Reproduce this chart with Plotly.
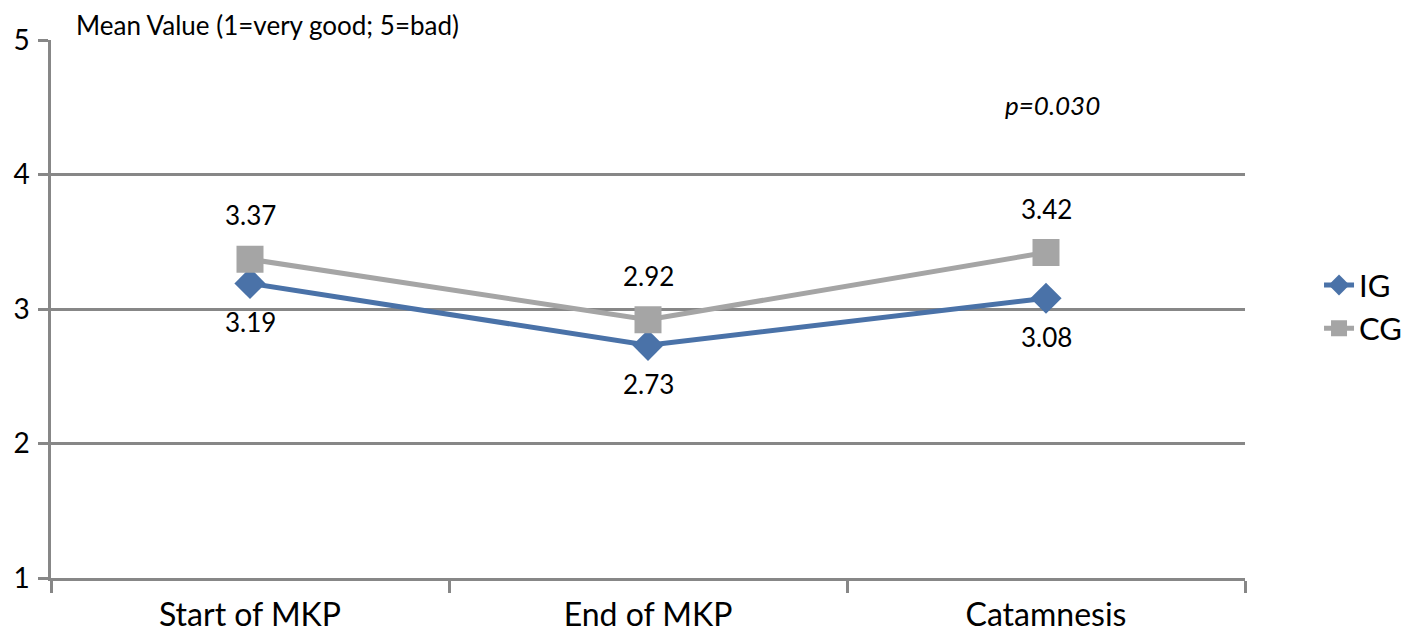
import plotly.graph_objects as go

categories = ["Start of MKP", "End of MKP", "Catamnesis"]
ig_values = [3.19, 2.73, 3.08]
cg_values = [3.37, 2.92, 3.42]
y_ticks = [1, 2, 3, 4, 5]

IG_COLOR = "#4A72A8"
CG_COLOR = "#A5A5A5"
AXIS_COLOR = "#878787"
FONT = "Lato"

fig = go.Figure()
fig.add_trace(go.Scatter(
    x=categories, y=ig_values, name="IG", mode="lines+markers",
    line=dict(color=IG_COLOR, width=5),
    marker=dict(symbol="diamond", size=24, color=IG_COLOR),
))
fig.add_trace(go.Scatter(
    x=categories, y=cg_values, name="CG", mode="lines+markers",
    line=dict(color=CG_COLOR, width=5),
    marker=dict(symbol="square", size=27, color=CG_COLOR),
))

for c, v in zip(categories, ig_values):
    fig.add_annotation(x=c, y=v, text=f"{v:.2f}", showarrow=False, yshift=-39,
                       font=dict(size=26, color="black", family=FONT))
for c, v in zip(categories, cg_values):
    fig.add_annotation(x=c, y=v, text=f"{v:.2f}", showarrow=False, yshift=44,
                       font=dict(size=26, color="black", family=FONT))

fig.add_annotation(xref="paper", yref="paper", x=0.020, y=1.0, xanchor="left", yanchor="middle",
                   text="Mean Value (1=very good; 5=bad)", showarrow=False, yshift=15,
                   borderpad=0, font=dict(size=26, color="black", family=FONT))
fig.add_annotation(xref="paper", yref="paper", x=0.797, y=0.879, xanchor="left", yanchor="middle",
                   text="<i>p=0.030</i>", showarrow=False,
                   font=dict(size=26, color="black", family=FONT))

fig.update_layout(
    width=1416, height=628,
    margin=dict(l=43, r=179, t=32, b=58, autoexpand=False),
    plot_bgcolor="white", paper_bgcolor="white",
    font=dict(family=FONT, color="black"),
    showlegend=True,
    legend=dict(x=1.062, y=0.504, xanchor="left", yanchor="middle",
                font=dict(size=31, family=FONT)),
    xaxis=dict(
        type="category", showgrid=False, showline=True, linecolor=AXIS_COLOR, linewidth=2.5,
        ticks="outside", tickson="boundaries", ticklen=12, tickwidth=2.5, tickcolor=AXIS_COLOR,
        tickfont=dict(size=32, family=FONT), range=[-0.5, 2.5], ticklabelstandoff=7,
    ),
    yaxis=dict(
        range=[1, 5], tickvals=y_ticks, showgrid=True, gridcolor=AXIS_COLOR, gridwidth=2.5,
        showline=True, linecolor=AXIS_COLOR, linewidth=2.5, zeroline=False,
        ticks="outside", ticklen=10, tickwidth=2.5, tickcolor=AXIS_COLOR,
        tickfont=dict(size=28, family=FONT), ticklabelstandoff=3,
    ),
)

fig.write_html("out.html")
